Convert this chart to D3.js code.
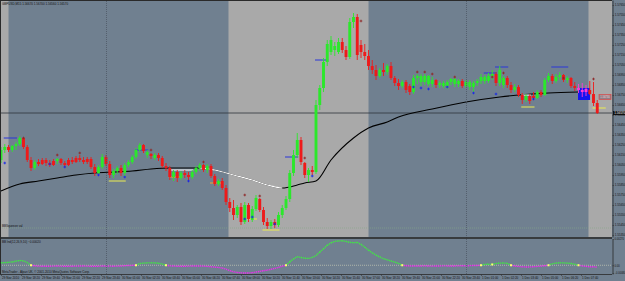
<!DOCTYPE html>
<html>
<head>
<meta charset="utf-8">
<script src="https://cdn.jsdelivr.net/npm/d3@7"></script>
<style>
  body { margin: 0; background: #708090; }
  svg { display: block; }
</style>
</head>
<body>
<div class="chart"></div>
<script>
// GBPUSD M15, first bar 29 Nov 2010 17:00
const firstBar = '2010-11-29T17:00';

const opens = [
  1.5610,1.5620,1.5623,1.5620,1.5624,1.5626,1.5632,1.5623,1.5610,1.5602,
  1.5608,1.5610,1.5610,1.5607,1.5609,1.5609,1.5611,1.5607,1.5610,1.5610,
  1.5612,1.5612,1.5610,1.5611,1.5611,1.5603,1.5597,1.5603,1.5613,1.5606,
  1.5595,1.5599,1.5602,1.5597,1.5605,1.5608,1.5613,1.5620,1.5625,1.5615,
  1.5616,1.5612,1.5615,1.5612,1.5604,1.5602,1.5593,1.5598,1.5592,1.5597,
  1.5595,1.5593,1.5598,1.5602,1.5605,1.5600,1.5604,1.5594,1.5586,1.5589,
  1.5582,1.5568,1.5562,1.5555,1.5563,1.5548,1.5565,1.5550,1.5561,1.5571,
  1.5560,1.5548,1.5544,1.5548,1.5545,1.5555,1.5562,1.5571,1.5597,1.5615,
  1.5630,1.5607,1.5595,1.5600,1.5598,1.5665,1.5682,1.5708,1.5718,1.5720,
  1.5718,1.5728,1.5720,1.5713,1.5748,1.5753,1.5725,1.5718,1.5714,1.5704,
  1.5700,1.5694,1.5700,1.5698,1.5704,1.5692,1.5687,1.5684,1.5688,1.5684,
  1.5678,1.5692,1.5688,1.5688,1.5686,1.5686,1.5690,1.5685,1.5684,1.5684,
  1.5688,1.5686,1.5686,1.5689,1.5684,1.5683,1.5683,1.5687,1.5689,1.5689,
  1.5689,1.5694,1.5696,1.5687,1.5685,1.5692,1.5685,1.5680,1.5683,1.5675,
  1.5670,1.5674,1.5674,1.5672,1.5678,1.5675,1.5690,1.5694,1.5689,1.5693,
  1.5695,1.5690,1.5692,1.5684,1.5682,1.5680,1.5681,1.5680,1.5676,1.5667
];
const highs = [
  1.5623,1.5626,1.5625,1.5625,1.5628,1.5634,1.5633,1.5625,1.5613,1.5610,
  1.5611,1.5612,1.5612,1.5610,1.5611,1.5612,1.5612,1.5609,1.5612,1.5613,
  1.5614,1.5615,1.5613,1.5613,1.5613,1.5606,1.5605,1.5616,1.5615,1.5609,
  1.5601,1.5604,1.5605,1.5607,1.5610,1.5615,1.5622,1.5627,1.5626,1.5620,
  1.5617,1.5617,1.5617,1.5614,1.5607,1.5604,1.5600,1.5600,1.5599,1.5600,
  1.5598,1.5600,1.5604,1.5607,1.5606,1.5606,1.5606,1.5596,1.5591,1.5592,
  1.5585,1.5572,1.5570,1.5565,1.5567,1.5568,1.5567,1.5564,1.5575,1.5572,
  1.5563,1.5552,1.5550,1.5551,1.5558,1.5565,1.5574,1.5600,1.5620,1.5637,
  1.5633,1.5608,1.5602,1.5604,1.5670,1.5685,1.5712,1.5730,1.5734,1.5728,
  1.5732,1.5732,1.5724,1.5752,1.5757,1.5756,1.5730,1.5726,1.5720,1.5710,
  1.5705,1.5702,1.5707,1.5706,1.5708,1.5694,1.5691,1.5690,1.5690,1.5686,
  1.5695,1.5696,1.5696,1.5696,1.5695,1.5693,1.5691,1.5689,1.5689,1.5690,
  1.5692,1.5692,1.5691,1.5691,1.5690,1.5690,1.5689,1.5691,1.5696,1.5695,
  1.5697,1.5700,1.5698,1.5704,1.5694,1.5694,1.5688,1.5686,1.5685,1.5677,
  1.5676,1.5676,1.5678,1.5680,1.5680,1.5692,1.5697,1.5696,1.5696,1.5698,
  1.5696,1.5694,1.5693,1.5688,1.5686,1.5687,1.5685,1.5689,1.5688,1.5670
];
const lows = [
  1.5607,1.5617,1.5618,1.5618,1.5620,1.5624,1.5621,1.5608,1.5599,1.5600,
  1.5604,1.5605,1.5604,1.5603,1.5604,1.5606,1.5605,1.5603,1.5604,1.5606,
  1.5607,1.5608,1.5606,1.5606,1.5601,1.5594,1.5595,1.5601,1.5604,1.5592,
  1.5592,1.5596,1.5594,1.5594,1.5603,1.5606,1.5611,1.5618,1.5617,1.5612,
  1.5611,1.5610,1.5609,1.5602,1.5599,1.5590,1.5589,1.5588,1.5590,1.5592,
  1.5588,1.5591,1.5596,1.5599,1.5598,1.5597,1.5592,1.5584,1.5584,1.5580,
  1.5565,1.5558,1.5550,1.5552,1.5545,1.5546,1.5548,1.5548,1.5559,1.5558,
  1.5545,1.5541,1.5541,1.5542,1.5543,1.5552,1.5560,1.5568,1.5594,1.5612,
  1.5605,1.5592,1.5588,1.5595,1.5596,1.5660,1.5678,1.5704,1.5715,1.5714,
  1.5716,1.5717,1.5710,1.5711,1.5742,1.5710,1.5712,1.5710,1.5700,1.5696,
  1.5690,1.5692,1.5694,1.5695,1.5690,1.5684,1.5680,1.5682,1.5677,1.5675,
  1.5676,1.5686,1.5684,1.5685,1.5684,1.5683,1.5682,1.5682,1.5682,1.5681,
  1.5685,1.5683,1.5683,1.5682,1.5682,1.5680,1.5678,1.5684,1.5686,1.5686,
  1.5687,1.5690,1.5684,1.5684,1.5682,1.5682,1.5677,1.5678,1.5673,1.5666,
  1.5668,1.5666,1.5670,1.5671,1.5673,1.5674,1.5688,1.5686,1.5687,1.5690,
  1.5688,1.5687,1.5682,1.5679,1.5677,1.5673,1.5674,1.5675,1.5664,1.5656
];
const closes = [
  1.5620,1.5623,1.5620,1.5624,1.5626,1.5632,1.5623,1.5610,1.5602,1.5608,
  1.5606,1.5606,1.5607,1.5605,1.5605,1.5611,1.5607,1.5605,1.5605,1.5608,
  1.5608,1.5610,1.5608,1.5608,1.5603,1.5597,1.5603,1.5613,1.5606,1.5595,
  1.5599,1.5602,1.5597,1.5605,1.5608,1.5613,1.5620,1.5625,1.5619,1.5618,
  1.5614,1.5615,1.5612,1.5604,1.5602,1.5593,1.5598,1.5592,1.5597,1.5595,
  1.5593,1.5598,1.5602,1.5605,1.5600,1.5604,1.5594,1.5586,1.5589,1.5582,
  1.5568,1.5562,1.5555,1.5563,1.5548,1.5565,1.5551,1.5561,1.5572,1.5560,
  1.5548,1.5544,1.5548,1.5545,1.5555,1.5562,1.5571,1.5597,1.5615,1.5630,
  1.5608,1.5595,1.5600,1.5598,1.5665,1.5682,1.5708,1.5726,1.5730,1.5724,
  1.5728,1.5720,1.5713,1.5748,1.5753,1.5715,1.5718,1.5714,1.5704,1.5700,
  1.5694,1.5700,1.5698,1.5704,1.5692,1.5687,1.5684,1.5688,1.5680,1.5678,
  1.5692,1.5694,1.5694,1.5694,1.5694,1.5690,1.5685,1.5687,1.5687,1.5688,
  1.5691,1.5691,1.5689,1.5684,1.5688,1.5688,1.5687,1.5689,1.5693,1.5693,
  1.5694,1.5696,1.5687,1.5700,1.5692,1.5685,1.5680,1.5683,1.5675,1.5670,
  1.5674,1.5669,1.5672,1.5678,1.5675,1.5690,1.5694,1.5689,1.5693,1.5695,
  1.5690,1.5692,1.5684,1.5682,1.5680,1.5678,1.5678,1.5676,1.5667,1.5657
];

// moving average, read at some bars: [bar, price]
const maPoints = [
  [0,1.5579],[5,1.5586],[10,1.5589],[15,1.5592],[20,1.5595],[25,1.5597],[30,1.5598],
  [35,1.5599],[40,1.5601],[45,1.5602],[50,1.5602],[53,1.5602],[57,1.5600],[62,1.5595],
  [67,1.5590],[71,1.5585],[75,1.5582],[79,1.5585],[81,1.5587],[84,1.5589],[88,1.5610],
  [94,1.5632],[98,1.5642],[103,1.5648],[106,1.5653],[115,1.5661],[124,1.5668],
  [133,1.5673],[138,1.5675],[146,1.5677],[154,1.5678]
];
const maWhiteBars = [53, 75];

// signal crosses: [bar, price]
const upMarks = [
  [6,1.5632],[15,1.5615],[21,1.5617],[40,1.5620],[54,1.5608],[65,1.5575],[69,1.5574],
  [81,1.5612],[96,1.5749],[111,1.5698],[113,1.5698],[115,1.5696],[121,1.5693],
  [131,1.5693],[134,1.5697],[150,1.5692],[158,1.5691]
];
const downMarks = [
  [1,1.5607],[13,1.5606],[17,1.5603],[26,1.5595],[33,1.5593],[50,1.5589],[65,1.5551],
  [67,1.5553],[73,1.5546],[83,1.5594],[110,1.5683],[112,1.5682],[114,1.5681],
  [119,1.5683],[126,1.5677],[132,1.5676],[142,1.5671]
];

// short level lines: [fromBar, toBar, price]
const blueLevels = [[1,4,1.5632],[36,39,1.5620],[76,79,1.5613],[84,87,1.5710],[129,132,1.5697],[132,135,1.5703],[147,151,1.5703]];
const yellowLevels = [[29,33,1.5589],[66,68,1.5551],[70,74,1.5540],[139,142,1.5663],[158,161,1.5662]];
const orangeLevels = [[45,48,1.5593],[56,59,1.5587]];
const whiteLevels = [[45,51,1.5600],[139,141,1.5675]];

// box at the last bars: [fromBar, toBar, top, bottom]
const boxZone = [154, 157, 1.5682, 1.5670];
const boxBars = [154, 155, 156];
const alertPrice = 1.5673;
const lowLine = 1.5542;

// london sessions
const sessions = [
  ['2010-11-29T08:10', '2010-11-29T17:30'],
  ['2010-11-30T08:10', '2010-11-30T17:30'],
  ['2010-12-01T08:10', '2010-12-01T17:30']
];
const daySeparators = ['2010-11-30T00:00', '2010-12-01T00:00'];

// oscillator in the sub window
const oscValues = [
  0.00025,0.00027,0.00029,0.00034,0.00042,0.00049,0.00046,0.00028,0.00000,-0.00006,
  -0.00009,-0.00010,-0.00011,-0.00010,-0.00009,-0.00008,-0.00009,-0.00010,-0.00011,-0.00010,
  -0.00009,-0.00008,-0.00008,-0.00009,-0.00010,-0.00011,-0.00010,-0.00008,-0.00007,-0.00009,
  -0.00010,-0.00009,-0.00007,-0.00005,-0.00003,-0.00001,0.00000,0.00018,0.00022,0.00024,
  0.00025,0.00024,0.00021,0.00012,0.00000,-0.00006,-0.00008,-0.00010,-0.00011,-0.00010,
  -0.00009,-0.00008,-0.00008,-0.00007,-0.00009,-0.00012,-0.00015,-0.00019,-0.00023,-0.00028,
  -0.00040,-0.00055,-0.00068,-0.00074,-0.00078,-0.00080,-0.00080,-0.00076,-0.00070,-0.00063,
  -0.00056,-0.00050,-0.00042,-0.00032,-0.00022,-0.00010,0.00000,0.00035,0.00065,0.00088,
  0.00080,0.00072,0.00070,0.00080,0.00100,0.00135,0.00170,0.00205,0.00230,0.00245,
  0.00250,0.00252,0.00245,0.00235,0.00232,0.00235,0.00215,0.00185,0.00155,0.00128,
  0.00105,0.00085,0.00068,0.00055,0.00044,0.00032,0.00020,0.00000,-0.00005,-0.00007,
  -0.00008,-0.00008,-0.00007,-0.00006,-0.00008,-0.00009,-0.00008,-0.00007,-0.00006,-0.00007,
  -0.00008,-0.00007,-0.00006,-0.00005,-0.00005,-0.00004,-0.00003,-0.00002,0.00000,0.00009,
  0.00010,0.00008,0.00018,0.00022,0.00023,0.00020,0.00000,-0.00008,-0.00012,-0.00016,
  -0.00018,-0.00017,-0.00015,-0.00012,-0.00009,-0.00005,0.00000,0.00015,0.00022,0.00025,
  0.00024,0.00022,0.00018,0.00010,0.00000,-0.00008,-0.00012,-0.00016,-0.00015,-0.00020
];
const oscCrossBars = [8, 36, 44, 76, 107, 128, 131, 136, 146, 154];

const priceTicks = [1.5765,1.5755,1.5745,1.5735,1.5725,1.5715,1.5705,1.5695,1.5685,1.5675,1.5665,
  1.5655,1.5645,1.5635,1.5625,1.5615,1.5605,1.5595,1.5585,1.5575,1.5565,1.5555,1.5545,1.5535];
const oscTicks = [0.0027, 0, -0.0008];

const timeTicks = [
  '2010-11-29T17:00','2010-11-29T18:20','2010-11-29T19:40','2010-11-29T21:00','2010-11-29T22:20',
  '2010-11-29T23:40','2010-11-30T01:00','2010-11-30T02:20','2010-11-30T03:40','2010-11-30T05:00',
  '2010-11-30T06:20','2010-11-30T07:40','2010-11-30T09:00','2010-11-30T10:20','2010-11-30T11:40',
  '2010-11-30T13:00','2010-11-30T14:20','2010-11-30T15:40','2010-11-30T17:00','2010-11-30T18:20',
  '2010-11-30T19:40','2010-11-30T21:00','2010-11-30T22:20','2010-11-30T23:40','2010-12-01T01:00',
  '2010-12-01T02:20','2010-12-01T03:40','2010-12-01T05:00','2010-12-01T06:20','2010-12-01T07:40'
];
const timeLabels = [
  '29 Nov 2010','29 Nov 18:20','29 Nov 19:40','29 Nov 21:00','29 Nov 22:20',
  '29 Nov 23:40','30 Nov 01:00','30 Nov 02:20','30 Nov 03:40','30 Nov 05:00',
  '30 Nov 06:20','30 Nov 07:40','30 Nov 09:00','30 Nov 10:20','30 Nov 11:40',
  '30 Nov 13:00','30 Nov 14:20','30 Nov 15:40','30 Nov 17:00','30 Nov 18:20',
  '30 Nov 19:40','30 Nov 21:00','30 Nov 22:20','30 Nov 23:40','1 Dec 01:00',
  '1 Dec 02:20','1 Dec 03:40','1 Dec 05:00','1 Dec 06:20','1 Dec 07:40'
];

//layout
const width = 625, height = 281;
const plotRight = 612;
const mainBottom = 237;
const subTop = 238, subBottom = 274;
const font = '"Liberation Sans", Arial, sans-serif';
const fs = 3;

const bull = '#2be82b', bear = '#ee1a1a';

const t0 = new Date(firstBar);
const barTime = i => d3.timeMinute.offset(t0, 15 * i);

const bars = opens.map((o, i) => ({ i, o, h: highs[i], l: lows[i], c: closes[i] }));

const xScale = d3.scaleTime()
  .domain([barTime(0), barTime(bars.length - 1)])
  .range([1, 1 + 3.75 * (bars.length - 1)]);
const bx = i => xScale(barTime(i));

const yScale = d3.scaleLinear().domain([1.5533, 1.5770]).range([mainBottom, 0]);
const oscScale = d3.scaleLinear().domain([-0.0009, 0.0027]).range([subBottom, 239]);

const svg = d3.select('.chart').append('svg')
  .attr('width', width)
  .attr('height', height)
  .attr('font-family', font);

svg.append('rect').attr('width', width).attr('height', height).attr('fill', '#708090');

const defs = svg.append('defs');
defs.append('clipPath').attr('id', 'clip-main')
  .append('rect').attr('x', 0).attr('y', 0).attr('width', plotRight).attr('height', mainBottom);
defs.append('clipPath').attr('id', 'clip-sub')
  .append('rect').attr('x', 0).attr('y', subTop).attr('width', plotRight).attr('height', subBottom - subTop);
defs.append('clipPath').attr('id', 'clip-white')
  .append('rect').attr('x', bx(maWhiteBars[0])).attr('y', 0)
  .attr('width', bx(maWhiteBars[1]) - bx(maWhiteBars[0])).attr('height', mainBottom);

const main = svg.append('g').attr('clip-path', 'url(#clip-main)');
const sub = svg.append('g').attr('clip-path', 'url(#clip-sub)');

//session boxes
main.selectAll('.session')
  .data(sessions)
  .join('rect')
  .attr('class', 'session')
  .attr('x', d => xScale(new Date(d[0])))
  .attr('width', d => xScale(new Date(d[1])) - xScale(new Date(d[0])))
  .attr('y', 0)
  .attr('height', mainBottom)
  .attr('fill', '#a9a9a9');

//day separators over both windows
svg.selectAll('.sep')
  .data(daySeparators)
  .join('line')
  .attr('class', 'sep')
  .attr('x1', d => Math.round(xScale(new Date(d))) + 0.5)
  .attr('x2', d => Math.round(xScale(new Date(d))) + 0.5)
  .attr('y1', 1).attr('y2', subBottom)
  .attr('stroke', '#4d5764')
  .attr('stroke-width', 0.8)
  .attr('stroke-dasharray', '1,1');

//faint line at the low
main.append('line')
  .attr('x1', 0).attr('x2', plotRight)
  .attr('y1', yScale(lowLine)).attr('y2', yScale(lowLine))
  .attr('stroke', '#86a886').attr('stroke-width', 0.6).attr('stroke-dasharray', '1,1');

//bid line
const last = bars[bars.length - 1];
main.append('line')
  .attr('x1', 0).attr('x2', plotRight)
  .attr('y1', yScale(last.c)).attr('y2', yScale(last.c))
  .attr('stroke', '#2e343a').attr('stroke-width', 0.8);

//moving average
const maLine = d3.line()
  .x(d => bx(d[0]))
  .y(d => yScale(d[1]))
  .curve(d3.curveMonotoneX);

main.append('path')
  .attr('d', maLine(maPoints))
  .attr('fill', 'none').attr('stroke', '#000').attr('stroke-width', 1.1);
main.append('path')
  .attr('d', maLine(maPoints))
  .attr('clip-path', 'url(#clip-white)')
  .attr('fill', 'none').attr('stroke', '#fff').attr('stroke-width', 1.2);

//blue box
main.append('rect')
  .attr('x', bx(boxZone[0]) - 0.5)
  .attr('width', bx(boxZone[1]) - bx(boxZone[0]) + 0.8)
  .attr('y', yScale(boxZone[2]))
  .attr('height', yScale(boxZone[3]) - yScale(boxZone[2]))
  .attr('fill', '#1414f0');

//level lines
const levelSets = [
  [blueLevels, '#2a36d8'], [yellowLevels, '#ecec50'], [orangeLevels, '#f0a030'], [whiteLevels, '#ffffff']
];
levelSets.forEach(([set, col]) => {
  main.selectAll(null)
    .data(set)
    .join('line')
    .attr('x1', d => bx(d[0]) - 1).attr('x2', d => bx(d[1]) + 1)
    .attr('y1', d => yScale(d[2])).attr('y2', d => yScale(d[2]))
    .attr('stroke', col).attr('stroke-width', 1);
});

//candles
const candleColor = d => boxBars.includes(d.i) ? '#ff3cd2' : (d.c >= d.o ? bull : bear);
const candles = main.selectAll('.candle')
  .data(bars)
  .join('g')
  .attr('class', 'candle');

candles.append('line')
  .attr('x1', d => bx(d.i)).attr('x2', d => bx(d.i))
  .attr('y1', d => yScale(d.h)).attr('y2', d => yScale(d.l))
  .attr('stroke', candleColor).attr('stroke-width', 0.9);

candles.append('rect')
  .attr('x', d => bx(d.i) - 1.45)
  .attr('width', 2.9)
  .attr('y', d => yScale(Math.max(d.o, d.c)))
  .attr('height', d => Math.max(0.8, Math.abs(yScale(d.o) - yScale(d.c))))
  .attr('fill', candleColor);

//cross markers
const cross = (sel, data, col) => {
  const g = sel.selectAll(null).data(data).join('g')
    .attr('transform', d => `translate(${bx(d[0])},${yScale(d[1])})`);
  g.append('line').attr('x1', -1.3).attr('x2', 1.3).attr('y1', 0).attr('y2', 0)
    .attr('stroke', col).attr('stroke-width', 0.9);
  g.append('line').attr('x1', 0).attr('x2', 0).attr('y1', -1.3).attr('y2', 1.3)
    .attr('stroke', col).attr('stroke-width', 0.9);
};
cross(main, upMarks, '#8e2828');
cross(main, downMarks, '#1a28e6');

//alert price label
main.append('rect')
  .attr('x', 599).attr('width', 12)
  .attr('y', yScale(alertPrice) - 2.4).attr('height', 4.8)
  .attr('fill', '#8f7f88').attr('stroke', '#e83a3a').attr('stroke-width', 0.6);
main.append('text')
  .attr('x', 605).attr('y', yScale(alertPrice) + 1)
  .attr('text-anchor', 'middle')
  .attr('font-size', 2.6).attr('fill', '#ffd0d0')
  .text(d3.format('.5f')(alertPrice));

//title and indicator label in the main window
svg.append('text')
  .attr('x', 2).attr('y', 4.6)
  .attr('font-size', fs).attr('fill', '#111')
  .text(`GBPUSD,M15  ${[last.o, last.h, last.l, last.c].map(d3.format('.5f')).join(' ')}`);
svg.append('text')
  .attr('x', 2).attr('y', 226.5)
  .attr('font-size', fs).attr('fill', '#111')
  .text('BBSqueeze val');

//window borders
svg.append('line').attr('x1', 0).attr('x2', plotRight).attr('y1', 0.5).attr('y2', 0.5)
  .attr('stroke', '#2a2a2a').attr('stroke-width', 1);
svg.append('line').attr('x1', 0.5).attr('x2', 0.5).attr('y1', 0).attr('y2', subBottom)
  .attr('stroke', '#2a2a2a').attr('stroke-width', 1);
[mainBottom + 0.5, subTop + 0.5, subBottom + 0.5].forEach(yy => {
  svg.append('line').attr('x1', 0).attr('x2', plotRight).attr('y1', yy).attr('y2', yy)
    .attr('stroke', '#2a2a2a').attr('stroke-width', 0.8);
});

//oscillator zero line
sub.append('line')
  .attr('x1', 0).attr('x2', plotRight)
  .attr('y1', oscScale(0)).attr('y2', oscScale(0))
  .attr('stroke', '#d8d8c0').attr('stroke-width', 0.6).attr('stroke-dasharray', '1,1');

//oscillator dotted line, green above zero, magenta below
const oscSegs = oscValues.slice(1).map((v, k) => ({ a: k, b: k + 1, va: oscValues[k], vb: v }));
sub.selectAll('.osc')
  .data(oscSegs)
  .join('line')
  .attr('class', 'osc')
  .attr('x1', d => bx(d.a)).attr('x2', d => bx(d.b))
  .attr('y1', d => oscScale(d.va)).attr('y2', d => oscScale(d.vb))
  .attr('stroke', d => (d.va + d.vb) / 2 >= 0 ? '#3cf03c' : '#f028f0')
  .attr('stroke-width', 1.4)
  .attr('stroke-dasharray', '1.2,0.8');

sub.selectAll('.cross')
  .data(oscCrossBars)
  .join('rect')
  .attr('class', 'cross')
  .attr('x', d => bx(d) - 1).attr('y', d => oscScale(oscValues[d]) - 1)
  .attr('width', 2).attr('height', 2)
  .attr('fill', '#ffff70');

svg.append('text')
  .attr('x', 2).attr('y', 242.6)
  .attr('font-size', fs).attr('fill', '#111')
  .text(`BB Ind(12,26,9,10) ${d3.format('.5f')(oscValues[oscValues.length - 1])}`);
svg.append('text')
  .attr('x', 2).attr('y', 272.8)
  .attr('font-size', fs).attr('fill', '#111')
  .text('MetaTrader - Alpari UK, © 2001-2010 MetaQuotes Software Corp.');

//price axis
const yAxis = d3.axisRight(yScale)
  .tickValues(priceTicks)
  .tickFormat(d3.format('.5f'))
  .tickSize(1.5).tickSizeOuter(0).tickPadding(0.8);
svg.append('g')
  .attr('class', 'y-axis')
  .attr('transform', `translate(${plotRight + 0.5},0)`)
  .call(yAxis)
  .attr('font-size', fs).attr('font-family', font)
  .call(g => g.select('.domain').attr('stroke', '#2a2a2a').attr('stroke-width', 0.8))
  .call(g => g.selectAll('.tick line').attr('stroke', '#2a2a2a').attr('stroke-width', 0.5))
  .call(g => g.selectAll('.tick text').attr('fill', '#111'));

//current price label
svg.append('rect')
  .attr('x', plotRight + 1).attr('width', width - plotRight - 1)
  .attr('y', yScale(last.c) - 2).attr('height', 4)
  .attr('fill', '#101010');
svg.append('text')
  .attr('x', plotRight + 2.3).attr('y', yScale(last.c) + 1)
  .attr('font-size', fs).attr('fill', '#fff')
  .text(d3.format('.5f')(last.c));

//oscillator axis
const oscAxis = d3.axisRight(oscScale)
  .tickValues(oscTicks)
  .tickFormat(d => d === 0 ? '0.00' : d3.format('.5f')(d))
  .tickSize(1.5).tickSizeOuter(0).tickPadding(0.6);
svg.append('g')
  .attr('class', 'osc-axis')
  .attr('transform', `translate(${plotRight + 0.5},0)`)
  .call(oscAxis)
  .attr('font-size', 2.6).attr('font-family', font)
  .call(g => g.select('.domain').attr('stroke', '#2a2a2a').attr('stroke-width', 0.8))
  .call(g => g.selectAll('.tick line').attr('stroke', '#2a2a2a').attr('stroke-width', 0.5))
  .call(g => g.selectAll('.tick text').attr('fill', '#111'));

//time axis
const xAxis = d3.axisBottom(xScale)
  .tickValues(timeTicks.map(d => new Date(d)))
  .tickFormat((d, i) => timeLabels[i])
  .tickSize(1.5).tickSizeOuter(0).tickPadding(0.5);
svg.append('g')
  .attr('class', 'x-axis')
  .attr('transform', `translate(0,${subBottom + 0.5})`)
  .call(xAxis)
  .attr('font-size', fs).attr('font-family', font)
  .call(g => g.select('.domain').remove())
  .call(g => g.selectAll('.tick line').attr('stroke', '#2a2a2a').attr('stroke-width', 0.5))
  .call(g => g.selectAll('.tick text').attr('fill', '#111').attr('text-anchor', 'start').attr('dx', 0.6));
</script>
</body>
</html>
